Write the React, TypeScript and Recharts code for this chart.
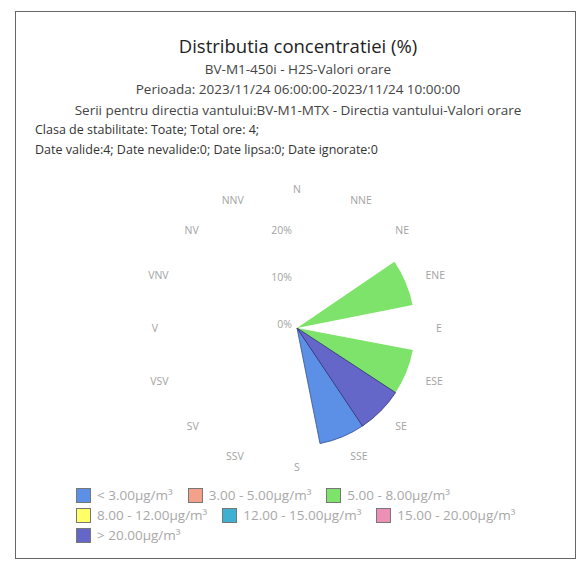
import { Cell, PolarAngleAxis, PolarRadiusAxis, RadialBar, RadialBarChart } from "recharts";

const directions = ["N", "NNE", "NE", "ENE", "E", "ESE", "SE", "SSE", "S", "SSV", "SV", "VSV", "V", "VNV", "NV", "NNV"];

const classLabels = [
  "< 3.00µg/m³",
  "3.00 - 5.00µg/m³",
  "5.00 - 8.00µg/m³",
  "8.00 - 12.00µg/m³",
  "12.00 - 15.00µg/m³",
  "15.00 - 20.00µg/m³",
  "> 20.00µg/m³",
];
const classColors = ["#5c90e6", "#f4a18b", "#7ee36a", "#ffff66", "#3fb0cf", "#ec90b5", "#6466c8"];
const classStrokes = ["#34508a", "none", "none", "none", "none", "none", "#2e3070"];

// percent of hours per direction, one list per concentration class
const under3 = [0, 0, 0, 0, 0, 0, 0, 25, 0, 0, 0, 0, 0, 0, 0, 0];
const from3to5 = [0, 0, 0, 0, 0, 0, 0, 0, 0, 0, 0, 0, 0, 0, 0, 0];
const from5to8 = [0, 0, 0, 25, 0, 25, 0, 0, 0, 0, 0, 0, 0, 0, 0, 0];
const from8to12 = [0, 0, 0, 0, 0, 0, 0, 0, 0, 0, 0, 0, 0, 0, 0, 0];
const from12to15 = [0, 0, 0, 0, 0, 0, 0, 0, 0, 0, 0, 0, 0, 0, 0, 0];
const from15to20 = [0, 0, 0, 0, 0, 0, 0, 0, 0, 0, 0, 0, 0, 0, 0, 0];
const over20 = [0, 0, 0, 0, 0, 0, 25, 0, 0, 0, 0, 0, 0, 0, 0, 0];

const radiusTicks = [0, 10, 20];

const series = [under3, from3to5, from5to8, from8to12, from12to15, from15to20, over20];

const data = directions.map((dir, i) => {
  const row: Record<string, string | number> = { dir };
  series.forEach((s, k) => {
    row["c" + k] = s[i];
  });
  return row;
});

const font = "'Open Sans', 'Noto Sans', sans-serif";
const CX = 297;
const CY = 328;
const LABEL_R = 139;
const HALF_BAND = 11.25;

// the band scale puts the tick at the band edge, move the label to the middle of the sector
const DirTick = (props: any) => {
  const { x, y, payload } = props;
  const a0 = Math.atan2(CY - y, x - CX);
  const a = a0 + (HALF_BAND * Math.PI) / 180;
  const cos = Math.cos(a);
  const sin = Math.sin(a);
  const anchor = cos > 0.1 ? "start" : cos < -0.1 ? "end" : "middle";
  return (
    <text
      x={CX + LABEL_R * cos}
      y={CY - LABEL_R * sin}
      textAnchor={anchor}
      dominantBaseline="central"
      fill="#a3a3a3"
      fontSize={10.5}
      fontFamily={font}
    >
      {payload.value}
    </text>
  );
};

const line = (top: number, size: number, color: string, extra: React.CSSProperties = {}) => ({
  position: "absolute" as const,
  top: top - 10,
  height: 20,
  lineHeight: "20px",
  fontSize: size,
  color,
  whiteSpace: "nowrap" as const,
  ...extra,
});

export default function App() {
  return (
    <div style={{ position: "absolute", left: 0, top: 0, width: 580, height: 561, fontFamily: font, background: "#fff" }}>
      <div
        style={{
          position: "absolute",
          left: 15,
          top: 11,
          width: 561,
          height: 548,
          border: "1px solid #666",
          boxSizing: "border-box",
        }}
      />
      <div style={line(46, 18.5, "#222", { left: 0, width: 596, textAlign: "center" })}>Distributia concentratiei (%)</div>
      <div style={line(69, 13.5, "#444", { left: 0, width: 596, textAlign: "center" })}>BV-M1-450i - H2S-Valori orare</div>
      <div style={line(89, 13.5, "#444", { left: 0, width: 596, textAlign: "center" })}>
        Perioada: 2023/11/24 06:00:00-2023/11/24 10:00:00
      </div>
      <div style={line(110, 13.5, "#444", { left: 0, width: 596, textAlign: "center" })}>
        Serii pentru directia vantului:BV-M1-MTX - Directia vantului-Valori orare
      </div>
      <div style={line(130, 12.5, "#333", { left: 35 })}>Clasa de stabilitate: Toate; Total ore: 4;</div>
      <div style={line(150, 12.5, "#333", { left: 35 })}>Date valide:4; Date nevalide:0; Date lipsa:0; Date ignorate:0</div>

      <div style={{ position: "absolute", left: 0, top: 0 }}>
        <RadialBarChart
          width={580}
          height={561}
          data={data}
          layout="centric"
          cx={CX}
          cy={CY}
          innerRadius={0}
          outerRadius={132}
          startAngle={78.75}
          endAngle={-281.25}
          barCategoryGap={0}
          barGap={0}
          margin={{ top: 0, right: 0, bottom: 0, left: 0 }}
        >
          <PolarAngleAxis type="category" dataKey="dir" axisLine={false} tickLine={false} tick={DirTick} />
          <PolarRadiusAxis
            type="number"
            angle={90}
            domain={[0, 27.5]}
            ticks={radiusTicks}
            orientation="left"
            axisLine={false}
            tickLine={false}
            tickFormatter={(v: number) => `${v}%`}
            tick={{ fill: "#a3a3a3", fontSize: 10.5, fontFamily: font, dx: -5 }}
          />
          {series.map((s, k) => (
            <RadialBar key={k} dataKey={"c" + k} stackId="a" fill={classColors[k]} isAnimationActive={false}>
              {s.map((v, i) => (
                <Cell key={i} fill={classColors[k]} stroke={v > 0 ? classStrokes[k] : "none"} strokeWidth={0.8} />
              ))}
            </RadialBar>
          ))}
        </RadialBarChart>
      </div>

      <div
        style={{
          position: "absolute",
          left: 76,
          top: 486,
          width: 470,
          display: "flex",
          flexWrap: "wrap",
          columnGap: 15,
          rowGap: 2,
        }}
      >
        {classLabels.map((label, k) => (
          <div key={k} style={{ display: "flex", alignItems: "center", height: 18, fontSize: 13.5, color: "#a8a8a8" }}>
            <span
              style={{
                display: "inline-block",
                width: 13,
                height: 13,
                background: classColors[k],
                border: "1px solid #777",
                marginRight: 6,
              }}
            />
            {label}
          </div>
        ))}
      </div>
    </div>
  );
}
